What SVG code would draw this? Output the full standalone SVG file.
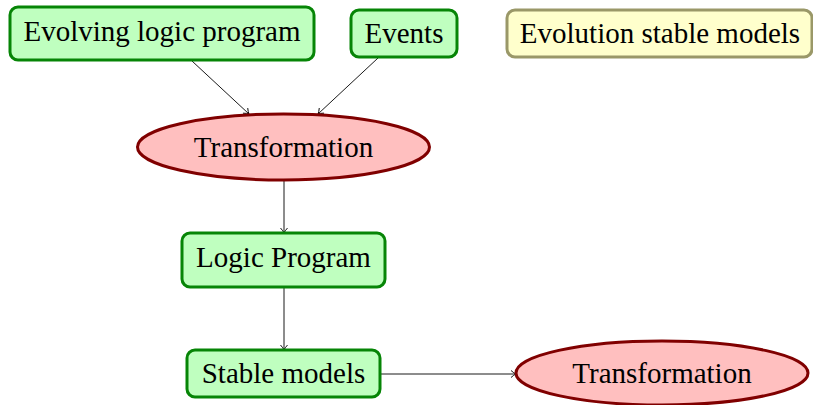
<svg xmlns="http://www.w3.org/2000/svg" width="813" height="405" viewBox="0 0 813 405">
<style>
.g{fill:#bfffbf;stroke:#068506;stroke-width:3}
.r{fill:#ffbfbf;stroke:#800000;stroke-width:3}
.y{fill:#ffffcc;stroke:#9a9868;stroke-width:3}
text{font-family:"Liberation Serif","Times New Roman",serif;font-size:29px;fill:#000;text-anchor:middle}
.c{stroke:#000;stroke-width:0.9;fill:none;marker-end:url(#a)}
</style>
<defs>
<marker id="a" markerUnits="userSpaceOnUse" markerWidth="12" markerHeight="12" refX="8" refY="6" orient="auto">
<path d="M3,2.5 Q6,5.2 8,6 Q6,6.8 3,9.5" fill="none" stroke="#000" stroke-width="0.9"/>
</marker>
</defs>
<g id="connectors">
<line class="c" x1="192" y1="61" x2="249" y2="114"/>
<line class="c" x1="378" y1="58" x2="318" y2="114"/>
<line class="c" x1="284" y1="180" x2="284" y2="233"/>
<line class="c" x1="284" y1="288" x2="284" y2="350"/>
<line class="c" x1="381" y1="374" x2="516" y2="374"/>
</g>
<g id="evolving"><rect class="g" x="10" y="7" width="304" height="53" rx="8"/><text x="162" y="41">Evolving logic program</text></g>
<g id="events"><rect class="g" x="351" y="10" width="106" height="47" rx="8"/><text x="404" y="43">Events</text></g>
<g id="evolution"><rect class="y" x="507" y="10" width="305" height="47" rx="8"/><text x="660" y="43">Evolution stable models</text></g>
<g id="transformation1"><ellipse class="r" cx="283.5" cy="147" rx="146" ry="33"/><text x="283.5" y="157">Transformation</text></g>
<g id="logic"><rect class="g" x="182" y="233" width="203" height="54" rx="8"/><text x="283.5" y="267">Logic Program</text></g>
<g id="stable"><rect class="g" x="187" y="350" width="193" height="47" rx="8"/><text x="283.5" y="383">Stable models</text></g>
<g id="transformation2"><ellipse class="r" cx="662" cy="373" rx="146" ry="32"/><text x="662" y="383">Transformation</text></g>
</svg>
